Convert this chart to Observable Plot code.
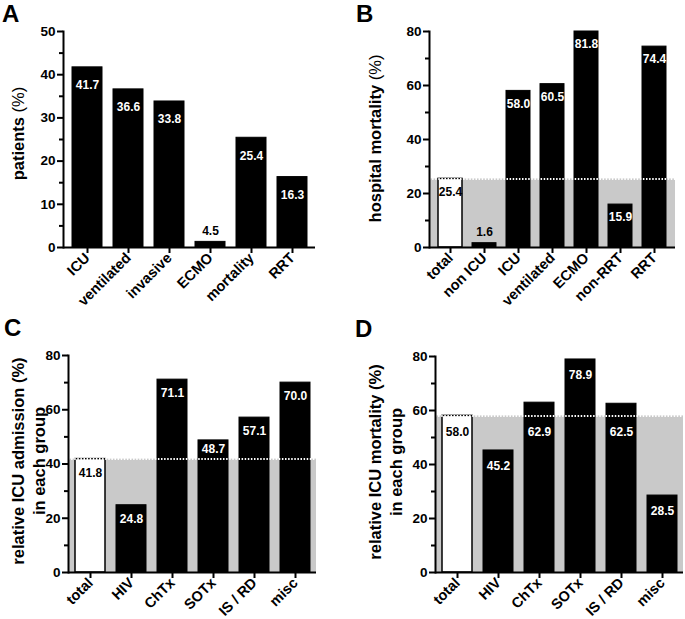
<!DOCTYPE html>
<html>
<head>
<meta charset="utf-8">
<script src="https://cdn.jsdelivr.net/npm/d3@7"></script>
<script src="https://cdn.jsdelivr.net/npm/@observablehq/plot@0.6"></script>
<style>
  body { margin: 0; background: white; }
  #root { position: relative; width: 685px; height: 619px; background: white; font-family: "Liberation Sans", Arial, sans-serif; color: black; }
  .panel { position: absolute; }
  .letter { position: absolute; font-size: 24px; font-weight: bold; line-height: 24px; }
  .ytitle { position: absolute; width: 300px; text-align: center; font-size: 16.5px; font-weight: bold; line-height: 21px; transform: rotate(-90deg); white-space: nowrap; }
  .ytitle .n { font-weight: normal; }
</style>
</head>
<body>
<div id="root"></div>
<script>
// ---- data ----
const catsA = ["ICU", "ventilated", "invasive", "ECMO", "mortality", "RRT"];
const barsA = [41.7, 36.6, 33.8, 1.3, 25.4, 16.3];
const labelsA = ["41.7", "36.6", "33.8", "4.5", "25.4", "16.3"];

const catsB = ["total", "non ICU", "ICU", "ventilated", "ECMO", "non-RRT", "RRT"];
const valuesB = [25.4, 1.6, 58.0, 60.5, 81.8, 15.9, 74.4];

const catsCD = ["total", "HIV", "ChTx", "SOTx", "IS / RD", "misc"];
const valuesC = [41.8, 24.8, 71.1, 48.7, 57.1, 70.0];
const valuesD = [58.0, 45.2, 62.9, 78.9, 62.5, 28.5];

const ticksA = [0, 10, 20, 30, 40, 50];
const minorA = [5, 15, 25, 35, 45];
const ticks80 = [0, 20, 40, 60, 80];
const minor80 = [10, 30, 50, 70];

const root = document.getElementById("root");

function panel(o) {
  const data = o.cats.map((c, i) => ({
    cat: c,
    bar: o.bars[i],
    label: o.labels[i],
    total: c === "total"
  }));
  const ti = o.cats.indexOf("total");
  const ref = ti >= 0 ? o.bars[ti] : null;
  const ppu = (o.height - o.mt - o.mb) / o.yMax; // pixels per unit
  // keep bar labels clear of the dotted reference line
  const anchor = d => {
    const v = Math.min(d.bar, o.yMax);
    if (ref == null || d.total) return v;
    const labelPx = -v * ppu + o.dy;
    const refPx = -ref * ppu;
    if (Math.abs(labelPx - refPx) < 9) {
      if (labelPx < refPx) return ref + (o.dy + 10) / ppu;
      return ref;
    }
    return v;
  };
  const above = data.filter(d => d.bar < 5);
  const insideBlack = data.filter(d => d.bar >= 5 && !d.total);
  const insideTotal = data.filter(d => d.bar >= 5 && d.total);
  const marks = [];
  if (ref != null) marks.push(Plot.rect([ref], {y1: 0, y2: d => d, fill: "#c9c9c9"}));
  marks.push(Plot.barY(data.filter(d => !d.total), {x: "cat", y: "bar", fill: "black", stroke: "black", strokeWidth: 1}));
  marks.push(Plot.barY(data.filter(d => d.total), {x: "cat", y: "bar", fill: "white", stroke: "black", strokeWidth: 1.5}));
  if (ref != null) marks.push(Plot.ruleY([ref], {stroke: "white", strokeWidth: 2, strokeDasharray: "1.5,1.6"}));
  marks.push(Plot.text(insideBlack, {x: "cat", y: anchor, text: "label", dy: o.dy, fill: "white", fontSize: 12, fontWeight: "bold"}));
  marks.push(Plot.text(insideTotal, {x: "cat", y: anchor, text: "label", dy: o.dy, fill: "black", fontSize: 12, fontWeight: "bold"}));
  marks.push(Plot.text(above, {x: "cat", y: "bar", text: "label", dy: -11, fill: "black", fontSize: 12, fontWeight: "bold"}));
  marks.push(Plot.ruleY([0], {stroke: "black", strokeWidth: 2}));
  marks.push(Plot.frame({anchor: "left", stroke: "black", strokeWidth: 2}));
  marks.push(Plot.axisY({ticks: o.ticks, tickSize: 6, tickPadding: 2, tickFormat: d => String(d), fontSize: 13.5, fontWeight: "bold", strokeWidth: 2, label: null}));
  marks.push(Plot.axisY({ticks: o.minor, tickSize: 4, tickFormat: () => "", strokeWidth: 2, label: null}));
  marks.push(Plot.axisX({tickSize: 6, tickPadding: 2, tickRotate: -45, fontSize: 14.5, fontWeight: "bold", strokeWidth: 2, label: null}));

  const svg = Plot.plot({
    width: o.width,
    height: o.height,
    marginLeft: o.ml, marginRight: o.mr, marginTop: o.mt, marginBottom: o.mb,
    style: {fontFamily: '"Liberation Sans", Arial, sans-serif', background: "transparent", overflow: "visible", color: "black"},
    x: {domain: o.cats, paddingInner: 0.28, paddingOuter: 0.16},
    y: {domain: [0, o.yMax], clamp: true},
    marks
  });
  const wrap = document.createElement("div");
  wrap.className = "panel";
  wrap.style.left = o.left + "px";
  wrap.style.top = o.top + "px";
  wrap.appendChild(svg);
  root.appendChild(wrap);
}

panel({cats: catsA, bars: barsA, labels: labelsA, yMax: 50, ticks: ticksA, minor: minorA, dy: 18,
  left: 0, top: 0, width: 340, height: 310, ml: 63, mr: 25, mt: 31, mb: 63});
panel({cats: catsB, bars: valuesB, labels: valuesB.map(v => v.toFixed(1)), yMax: 80, ticks: ticks80, minor: minor80, dy: 13,
  left: 340, top: 0, width: 345, height: 310, ml: 89, mr: 10, mt: 31, mb: 63});
panel({cats: catsCD, bars: valuesC, labels: valuesC.map(v => v.toFixed(1)), yMax: 80, ticks: ticks80, minor: minor80, dy: 14,
  left: 0, top: 310, width: 340, height: 309, ml: 68, mr: 24, mt: 45, mb: 47});
panel({cats: catsCD, bars: valuesD, labels: valuesD.map(v => v.toFixed(1)), yMax: 80, ticks: ticks80, minor: minor80, dy: 16,
  left: 340, top: 310, width: 345, height: 309, ml: 95, mr: 2, mt: 46, mb: 47});

function addLetter(t, x, y) {
  const d = document.createElement("div");
  d.className = "letter";
  d.textContent = t;
  d.style.left = x + "px";
  d.style.top = y + "px";
  root.appendChild(d);
}
addLetter("A", 2, 2);
addLetter("B", 356, 2);
addLetter("C", 4, 316);
addLetter("D", 355, 317);

function addTitle(html, cx, cy, lines) {
  const d = document.createElement("div");
  d.className = "ytitle";
  d.innerHTML = html;
  const h = 21 * lines;
  d.style.height = h + "px";
  d.style.left = (cx - 150) + "px";
  d.style.top = (cy - h / 2) + "px";
  root.appendChild(d);
}
addTitle('patients <span class="n">(%)</span>', 18, 133, 1);
addTitle('hospital mortality <span class="n">(%)</span>', 375, 138, 1);
addTitle('relative ICU admission (%)<br>in each group', 29, 461, 2);
addTitle('relative ICU mortality (%)<br>in each group', 386, 462, 2);
</script>
</body>
</html>
